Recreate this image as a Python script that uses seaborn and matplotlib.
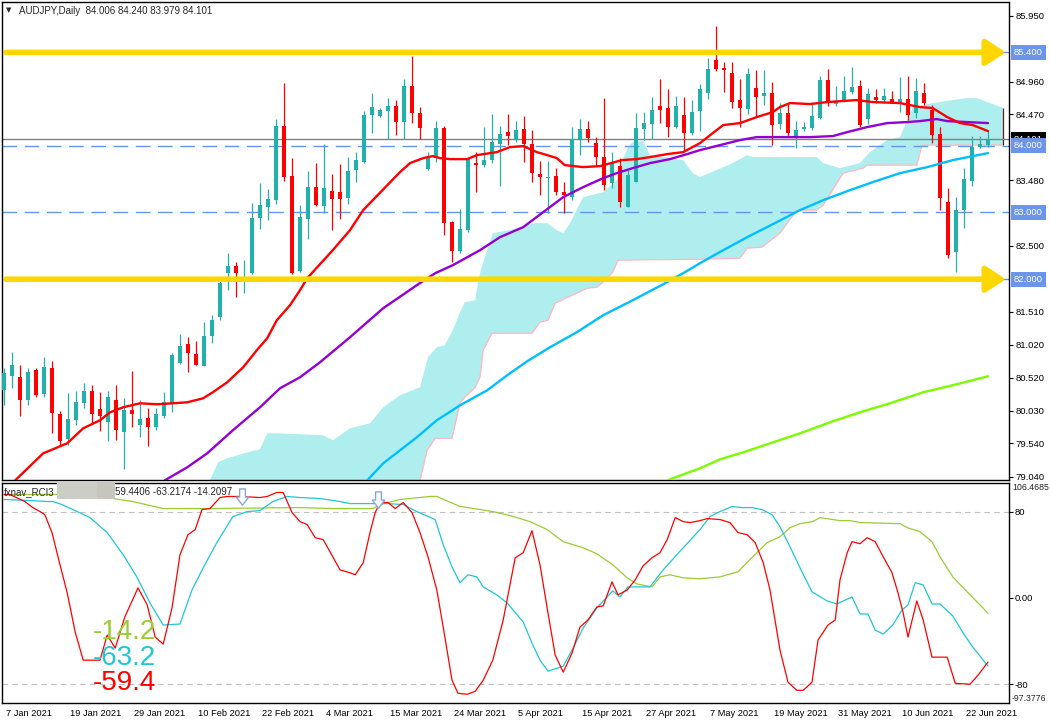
import matplotlib
matplotlib.use("Agg")
import matplotlib.pyplot as plt
import matplotlib.transforms as mtransforms
from matplotlib.patches import Rectangle
from matplotlib.path import Path
import numpy as np
import seaborn as sns

sns.set_theme(style="white")
plt.rcParams["font.family"] = ["Liberation Sans", "DejaVu Sans"]
plt.rcParams["axes.unicode_minus"] = False
plt.rcParams["lines.scale_dashes"] = False

# ---- daily candles, bar 0 = 7 Jan 2021 ----
opens = [80.335, 80.545, 80.53, 80.185, 80.635, 80.275, 80.665, 79.975, 79.6, 79.885,
         80.14, 80.32, 80.05, 79.855, 80.185, 79.705, 80.035, 79.81, 79.915, 79.78,
         79.945, 80.14, 80.74, 81.025, 80.875, 80.695, 81.145, 81.43, 82.09, 82.195,
         82.0, 82.09, 82.915, 83.08, 83.185, 84.295, 83.545, 82.12, 82.9, 83.38,
         83.095, 83.32, 83.305, 83.215, 83.635, 83.755, 84.46, 84.445, 84.52, 84.595,
         84.355, 84.895, 84.49, 83.65, 83.815, 84.265, 82.855, 82.42, 82.735, 83.74,
         83.71, 83.785, 84.025, 84.205, 84.085, 84.25, 84.025, 83.575, 83.515, 83.545,
         83.305, 83.23, 84.1, 84.25, 84.04, 83.83, 83.44, 83.695, 83.08, 83.455,
         84.25, 84.325, 84.595, 84.565, 84.28, 84.46, 84.19, 84.52, 84.79, 85.285,
         85.165, 85.09, 84.685, 84.55, 84.865, 84.745, 84.79, 84.325, 84.49, 84.145,
         84.25, 84.265, 84.415, 84.985, 84.625, 84.685, 84.805, 84.895, 84.4, 84.73,
         84.685, 84.7, 84.64, 84.7, 84.49, 84.79, 84.535, 84.175, 83.155, 82.405,
         83.035, 83.47, 83.98, 84.006]
highs = [80.665, 80.905, 80.71, 80.665, 80.665, 80.83, 80.77, 80.02, 80.29, 80.32,
         80.44, 80.41, 80.305, 80.32, 80.41, 80.215, 80.62, 80.185, 80.065, 80.065,
         80.305, 80.89, 81.175, 81.13, 81.07, 81.355, 81.46, 81.97, 82.39, 82.255,
         82.285, 83.14, 83.44, 83.35, 84.4, 84.94, 83.815, 83.11, 83.62, 83.74,
         84.025, 83.575, 83.725, 83.83, 83.905, 84.52, 84.79, 84.565, 84.715, 84.685,
         85.0, 85.345, 84.58, 83.905, 84.37, 84.295, 82.87, 83.05, 83.815, 83.905,
         84.28, 84.475, 84.295, 84.475, 84.37, 84.445, 84.235, 83.77, 83.77, 83.665,
         83.455, 84.28, 84.4, 84.37, 84.13, 84.715, 83.905, 83.815, 83.635, 84.49,
         84.505, 84.73, 85.0, 84.85, 84.745, 84.73, 84.685, 84.925, 85.315, 85.795,
         85.255, 85.255, 85.0, 85.165, 85.135, 85.135, 84.955, 84.64, 84.64, 84.37,
         84.355, 84.655, 85.045, 85.15, 84.895, 85.045, 85.18, 84.985, 84.865, 84.85,
         84.865, 84.82, 85.03, 85.045, 85.015, 84.94, 84.61, 84.28, 83.365, 83.23,
         83.665, 84.145, 84.145, 84.240]
lows = [80.11, 80.365, 79.945, 80.11, 80.23, 80.23, 79.69, 79.51, 79.51, 79.81,
        80.065, 79.84, 79.72, 79.57, 79.585, 79.15, 79.78, 79.63, 79.495, 79.735,
        79.915, 80.005, 80.725, 80.605, 80.71, 80.695, 81.04, 81.385, 81.835, 81.73,
        81.79, 82.075, 82.75, 82.885, 83.125, 83.47, 82.075, 82.105, 82.6, 83.095,
        82.99, 82.735, 82.9, 83.125, 83.455, 83.74, 84.19, 84.43, 84.1, 84.16,
        84.1, 84.34, 84.1, 83.635, 83.755, 82.66, 82.255, 82.39, 82.705, 83.305,
        83.68, 83.74, 83.395, 84.01, 84.055, 83.755, 83.455, 83.26, 82.99, 83.26,
        82.99, 83.185, 83.86, 84.055, 83.71, 83.335, 83.365, 83.08, 83.08, 83.455,
        84.085, 84.1, 84.34, 84.13, 84.265, 83.935, 84.16, 84.22, 84.7, 85.12,
        84.805, 84.565, 84.28, 84.475, 84.43, 84.61, 84.01, 84.25, 84.145, 83.965,
        84.22, 84.235, 84.4, 84.595, 84.595, 84.655, 84.775, 84.28, 84.325, 84.64,
        84.64, 84.64, 84.505, 84.385, 84.415, 84.61, 84.04, 83.035, 82.315, 82.105,
        82.765, 83.395, 83.965, 83.979]
closes = [80.59, 80.71, 80.185, 80.605, 80.26, 80.68, 79.99, 79.57, 79.9, 80.155,
          80.32, 79.975, 79.945, 80.23, 79.735, 80.035, 79.975, 79.9, 79.78, 79.975,
          80.155, 80.86, 80.995, 80.89, 80.71, 81.145, 81.385, 81.94, 82.195, 82.09,
          82.03, 82.915, 83.11, 83.2, 84.295, 83.53, 82.09, 82.93, 83.38, 83.11,
          83.365, 83.2, 83.2, 83.62, 83.785, 84.46, 84.58, 84.535, 84.595, 84.355,
          84.895, 84.49, 84.265, 83.815, 84.265, 82.84, 82.42, 82.75, 83.8, 83.71,
          83.785, 84.055, 84.175, 84.145, 84.235, 84.025, 83.59, 83.53, 83.53, 83.305,
          83.26, 84.1, 84.25, 84.115, 83.83, 83.41, 83.74, 83.155, 83.56, 84.265,
          84.34, 84.535, 84.535, 84.28, 84.595, 84.19, 84.505, 84.85, 85.15, 85.15,
          85.135, 84.655, 84.565, 85.075, 84.73, 84.79, 84.31, 84.49, 84.19, 84.235,
          84.28, 84.445, 84.985, 84.64, 84.655, 84.82, 84.88, 84.31, 84.775, 84.685,
          84.745, 84.655, 84.7, 84.46, 84.82, 84.64, 84.16, 83.215, 82.36, 83.035,
          83.5, 83.98, 84.025, 84.101]

# ---- moving averages (bar position, price) ----
ma_red_x = [1.4, 4.9, 6.1, 7.9, 9.9, 12, 13.25, 14.9, 17, 19.1, 21.1, 22.9, 24.9, 26.1, 27.9,
            29.9, 31.6, 32.9, 34.1, 35.75, 37, 37.9, 41.1, 43.25, 44.9, 46.1, 49.5, 50.75, 52.4,
            53.6, 54.5, 55.75, 57.9, 59.1, 61.6, 63.25, 64.9, 66.6, 67.9, 69.1, 70.1, 72.4, 74.5,
            77.25, 79.1, 80.75, 82.9, 84.9, 87, 88.6, 89.9, 92, 94.1, 96.1, 97, 98.25, 100.75,
            102.9, 106.6, 108.6, 112, 114.5, 116.1, 117.9, 119.5, 121.1, 123]
ma_red = [78.985, 79.39, 79.45, 79.54, 79.765, 79.885, 80.005, 80.08, 80.14, 80.125, 80.14,
          80.155, 80.215, 80.305, 80.455, 80.68, 80.935, 81.115, 81.385, 81.61, 81.835, 82.015,
          82.435, 82.735, 83.035, 83.185, 83.605, 83.74, 83.815, 83.845, 83.815, 83.8, 83.8,
          83.86, 83.905, 83.98, 83.995, 83.905, 83.86, 83.815, 83.71, 83.68, 83.695, 83.785,
          83.8, 83.83, 83.875, 83.905, 84.04, 84.19, 84.31, 84.34, 84.43, 84.505, 84.58, 84.64,
          84.625, 84.655, 84.685, 84.655, 84.64, 84.58, 84.565, 84.43, 84.34, 84.31, 84.22]
ma_purple_x = [20.1, 22.9, 25.4, 28.6, 32, 34.5, 37, 39.5, 43.25, 47.4, 51.6, 53.9, 56.1, 59.5,
               62, 64.9, 67.4, 69.9, 72.4, 74.9, 76.6, 78.6, 80.75, 83.25, 85.4, 87, 89.5, 92,
               94.1, 97.4, 100.75, 103.6, 105.4, 107.9, 110.4, 112.9, 114.5, 116.6, 117.9, 120.4, 123]
ma_purple = [78.985, 79.18, 79.39, 79.735, 80.08, 80.365, 80.53, 80.755, 81.13, 81.565, 81.91,
             82.09, 82.21, 82.435, 82.63, 82.78, 83.005, 83.23, 83.38, 83.515, 83.59, 83.665,
             83.74, 83.8, 83.875, 83.935, 84.01, 84.085, 84.13, 84.13, 84.13, 84.145, 84.205,
             84.28, 84.34, 84.355, 84.37, 84.4, 84.37, 84.355, 84.34]
ma_blue_x = [45.4, 47.4, 49.5, 51.6, 54.1, 57, 60.4, 62.9, 65.4, 68.25, 71.6, 74.9, 78.6, 82.4,
             84.9, 87, 89.9, 92.9, 96.6, 99.5, 102.4, 105.75, 108.6, 112, 115.4, 118.6, 123]
ma_blue = [78.985, 79.24, 79.435, 79.63, 79.885, 80.11, 80.335, 80.56, 80.77, 80.98, 81.205,
           81.46, 81.685, 81.925, 82.09, 82.24, 82.435, 82.63, 82.855, 83.035, 83.185, 83.335,
           83.455, 83.59, 83.68, 83.785, 83.89]
ma_green_x = [82.9, 87, 89.5, 92.4, 95.75, 99.5, 103.6, 107, 110.75, 114.9, 119.1, 123]
ma_green = [78.985, 79.165, 79.3, 79.405, 79.54, 79.69, 79.87, 80.005, 80.14, 80.305, 80.425, 80.545]

# ---- ichimoku cloud edges ----
span_a_x = [25.75, 26.75, 27.9, 30.4, 32, 32.9, 34.1, 39.9, 41.1, 42, 43.25, 45.75, 47.4, 49.5,
            52, 53, 54.1, 55.1, 56.1, 57, 57.6, 58.9, 59.25, 59.6, 60.4, 61.1, 63.25, 66.1, 67.9,
            69.1, 69.9, 70.75, 72.4, 74.9, 76.6, 77, 78, 78.6, 79.9, 80.75, 84.9, 86.1, 87, 91.1,
            92.9, 93.6, 101.6, 102.4, 104.5, 107, 108.25, 110.4, 112, 112.9, 113.6, 116.1, 118.6,
            120.4, 121.6, 123.25, 124.9]
span_a = [78.985, 79.255, 79.315, 79.405, 79.45, 79.69, 79.69, 79.66, 79.585, 79.66, 79.765,
          79.84, 80.08, 80.26, 80.38, 80.83, 80.98, 81.01, 81.235, 81.505, 81.655, 81.685, 81.94,
          82.135, 82.435, 82.69, 82.735, 82.84, 82.84, 82.735, 82.69, 82.84, 83.23, 83.305,
          83.485, 83.68, 83.98, 84.055, 84.07, 83.86, 83.785, 83.59, 83.53, 83.74, 83.86, 83.83,
          83.83, 83.74, 83.665, 83.74, 83.905, 84.085, 84.13, 84.385, 84.58, 84.64, 84.685,
          84.715, 84.715, 84.64, 84.565]
span_b_x = [25.75, 40, 52, 52.9, 53.9, 56, 57, 57.6, 58.9, 59.5, 59.9, 61, 66, 67, 68, 68.9,
            72.9, 74.1, 74.75, 76.1, 76.75, 87, 92, 92.9, 94.75, 97, 99.1, 101.6, 102.4, 104.9,
            107.4, 107.9, 114.1, 114.75, 124.9]
span_b = [78.3, 78.6, 78.985, 79.435, 79.615, 79.615, 80.14, 80.23, 80.38, 80.53, 80.935, 81.19,
          81.19, 81.355, 81.385, 81.64, 81.865, 81.88, 81.94, 82.105, 82.285, 82.3, 82.315,
          82.465, 82.48, 82.69, 83.035, 83.035, 83.11, 83.59, 83.665, 83.71, 83.71, 84.01, 84.01]

# ---- RCI lines ----
rci_red_x = [0, 0.75, 2.6, 3.6, 4.5, 5.1, 6, 7, 7.9, 8.9, 9.9, 12, 12.9, 13.9, 15.1, 16.75, 17.9,
             18.9, 19.9, 21, 22, 23, 23.9, 24.75, 25.75, 27, 27.9, 29.5, 32, 32.9, 34.1, 34.9, 36,
             37, 37.9, 38.9, 39.9, 41.1, 42, 43.25, 43.9, 44.9, 45.75, 46.4, 47, 48, 48.9, 49.9,
             51, 52, 53, 54.1, 54.9, 56, 56.75, 57.9, 58.9, 59.9, 61.1, 62.4, 63.9, 64.9, 66, 67,
             68, 68.9, 69.9, 71, 72, 73, 74.1, 74.9, 76, 76.75, 77.9, 78.9, 79.9, 81, 82, 82.9,
             83.9, 84.9, 85.75, 87, 87.9, 89.5, 90.75, 91.75, 92.9, 93.9, 94.9, 95.75, 97, 98,
             99.1, 99.9, 101, 101.75, 103, 103.9, 104.5, 105.4, 106, 107, 107.9, 108.9, 109.9,
             111, 111.75, 112.4, 113, 114.1, 114.9, 116, 117.9, 118.9, 120.75, 121.75, 123]
rci_red = [95.8, 95.8, 89.3, 83.7, 80.0, 77.2, 60.5, 30.7, 4.7, -31.6, -57.7, -57.7, -34.4, -46.5,
           -17.7, 9.3, -6.5, -36.3, -42.8, -9.3, 40.0, 58.6, 63.3, 81.9, 82.8, 93.0, 94.0, 94.0,
           93.0, 94.0, 97.7, 97.7, 79.1, 70.7, 67.9, 55.8, 54.0, 38.1, 26.0, 23.3, 21.4, 32.6,
           60.5, 79.1, 88.4, 88.4, 82.8, 88.4, 79.1, 60.5, 38.1, 7.4, -27.0, -76.3, -88.4, -89.3,
           -86.5, -76.3, -57.7, -20.5, 37.2, 41.9, 62.3, 30.7, -14.0, -53.0, -68.8, -51.2, -27.0,
           -20.5, -8.4, -7.4, 14.9, 2.8, 7.4, 16.7, 29.8, 37.2, 41.9, 54.0, 74.4, 70.7, 69.8,
           71.6, 73.5, 72.6, 69.8, 60.5, 58.6, 51.2, 32.6, 7.4, -48.4, -78.1, -85.6, -85.6,
           -78.1, -39.1, -25.1, -20.5, 16.7, 41.9, 52.1, 50.2, 55.8, 52.1, 38.1, 23.3, 4.7,
           -14.0, -36.3, -2.8, -20.5, -54.9, -54.9, -79.1, -80.0, -71.6, -59.44]
rci_cyan_x = [0, 3.25, 5.4, 6.1, 7.25, 8.6, 10.75, 12.9, 14.9, 16.6, 18.25, 19.9, 22, 23.5, 24.9,
              26.6, 28.6, 30.4, 32, 33.6, 35.4, 37, 39.5, 42, 43.25, 46.1, 47.9, 49.9, 51.6, 53.9,
              54.9, 56, 57, 58, 59.1, 59.9, 61.6, 62.9, 64.9, 66, 67, 68, 69.9, 71, 72.4, 74.1,
              76.1, 77, 78, 80.75, 82.4, 84.1, 87, 88.25, 89.5, 91, 92.25, 93.5, 94.75, 96, 97,
              98.25, 99.5, 101, 102.9, 104.1, 106, 107, 108, 108.9, 109.9, 111.1, 112.25, 113,
              113.9, 114.9, 116, 117, 118.6, 119.9, 121.1, 123]
rci_cyan = [91.2, 90.2, 89.3, 89.3, 86.5, 81.9, 74.4, 60.5, 40.0, 19.5, -4.7, -25.1, -24.2, 7.4,
            27.9, 51.2, 75.3, 80.0, 80.9, 89.3, 94.0, 93.0, 92.1, 89.3, 87.4, 87.4, 87.4, 86.5,
            80.0, 72.6, 49.3, 28.8, 14.0, 21.4, 19.5, 10.2, 2.8, -4.7, -22.3, -41.9, -57.7, -67.9,
            -63.3, -48.4, -27.9, -9.3, 6.5, 0.9, 10.2, 10.2, 26.0, 40.0, 63.3, 75.3, 80.0, 84.7,
            83.7, 83.7, 81.9, 77.2, 66.0, 47.4, 27.9, 5.6, -2.8, -5.6, 0.9, -14.9, -14.9, -29.8,
            -33.5, -25.1, -11.2, -6.5, 14.0, 12.1, -5.6, -5.6, -16.7, -32.6, -45.6, -63.22]
rci_green_x = [0, 7, 12, 16.1, 19.9, 25.4, 37, 41.1, 46.1, 47, 49.5, 53.25, 54.1, 57, 59.5, 61.1,
               63.25, 65.75, 67.9, 69.9, 72.4, 74.1, 76.1, 77.9, 79.1, 81, 82, 83.25, 84.9, 87,
               89.5, 91.75, 93.6, 95.4, 97, 98.25, 99.5, 101.1, 102, 104.5, 105.75, 107, 112,
               112.9, 114.5, 116, 117, 118.6, 120.4, 122, 123]
rci_green = [95.8, 95.8, 94.0, 89.3, 82.8, 82.8, 83.7, 82.8, 82.8, 86.5, 91.2, 94.0, 94.0, 84.7,
             81.9, 80.0, 76.3, 70.7, 63.3, 52.1, 46.5, 40.9, 30.7, 18.6, 13.0, 10.2, 19.5, 21.4,
             18.6, 17.7, 19.5, 24.2, 38.1, 51.2, 56.7, 65.1, 68.8, 70.7, 74.4, 71.6, 71.6, 69.8,
             68.8, 65.1, 61.4, 52.1, 38.1, 19.5, 5.6, -6.5, -14.21]
signal_x = [29.75, 46.75]
signal_v = [93, 90]

price_ticks = [85.950, 84.960, 84.470, 83.480, 82.500,
               81.510, 81.020, 80.520, 80.030, 79.540, 79.040]
arrow_levels = [85.4, 82.0]
dashed_levels = [85.4, 84.0, 83.0, 82.0]
bid = 84.101
date_bars = [0, 8, 16, 24, 32, 40, 48, 56, 64, 72, 80, 88, 96, 104, 112, 120]
date_labels = ["7 Jan 2021", "19 Jan 2021", "29 Jan 2021", "10 Feb 2021", "22 Feb 2021",
               "4 Mar 2021", "15 Mar 2021", "24 Mar 2021", "5 Apr 2021", "15 Apr 2021",
               "27 Apr 2021", "7 May 2021", "19 May 2021", "31 May 2021", "10 Jun 2021",
               "22 Jun 2021"]

W, H = 1050, 725
fig = plt.figure(figsize=(W / 100, H / 100), dpi=100)
fig.patch.set_facecolor("white")
ax = fig.add_axes([2 / W, 245 / H, 1007 / W, 478 / H])
ax2 = fig.add_axes([2 / W, 22 / H, 1007 / W, 220 / H])

for a in (ax, ax2):
    a.set_facecolor("white")
    a.set_xlim(-0.25, 125.625)
    for s in a.spines.values():
        s.set_color("black")
        s.set_linewidth(1)
ax.set_ylim(78.99, 86.155)
ax2.set_ylim(-97.3776, 106.4685)

# cloud
cx = np.r_[span_a_x, span_b_x[::-1]]
cy = np.r_[span_a, span_b[::-1]]
ax.fill(cx, cy, color="#AFEEEE", lw=0, zorder=1)
sns.lineplot(x=span_b_x, y=span_b, ax=ax, color="#FFB6C1", lw=0.9, sort=False, estimator=None, zorder=1.5)
ax.vlines(span_a_x[-1], span_b[-1], span_a[-1], color="#6B1A1A", lw=0.9, zorder=1.5)

# levels
for lv in dashed_levels:
    ax.axhline(lv, color="#6495ED", lw=1, ls=(0, (10.5, 5.5)), zorder=2)
ax.axhline(bid, color="#808080", lw=1, zorder=2)

# candles
o, hi, lo, c = map(np.array, (opens, highs, lows, closes))
bars = np.arange(len(o))
cols = np.where(c >= o, "#20B2AA", "#FF0000")
ax.vlines(bars, lo, hi, colors=cols, lw=0.9, zorder=3)
ax.bar(bars, np.maximum(np.abs(c - o), 0.013), bottom=np.minimum(o, c), width=0.62,
       color=cols, linewidth=0, zorder=3)

# moving averages
sns.lineplot(x=ma_green_x, y=ma_green, ax=ax, color="#7CFC00", lw=1.7, sort=False, estimator=None, zorder=4)
sns.lineplot(x=ma_blue_x, y=ma_blue, ax=ax, color="#00BFFF", lw=1.7, sort=False, estimator=None, zorder=4)
sns.lineplot(x=ma_purple_x, y=ma_purple, ax=ax, color="#9400D3", lw=1.7, sort=False, estimator=None, zorder=4)
sns.lineplot(x=ma_red_x, y=ma_red, ax=ax, color="#FF0000", lw=1.7, sort=False, estimator=None, zorder=4)

# yellow arrows
for lv in arrow_levels:
    ax.annotate("", xy=(125.25, lv), xytext=(0.25, lv),
                arrowprops=dict(arrowstyle="-|>,head_length=1.0,head_width=0.65",
                                color="#FFD700", lw=4, shrinkA=0, shrinkB=0), zorder=6)

ax.set_xticks([])
ax.yaxis.tick_right()
ax.set_yticks(price_ticks)
ax.set_yticklabels([f"{v:.3f}" for v in price_ticks])
ax.tick_params(axis="y", direction="out", length=3, width=0.8, pad=1.5, labelsize=6.8, colors="black")

trans = mtransforms.blended_transform_factory(ax.transAxes, ax.transData)
ax.text(1 + 5 / 1007, bid, f"{bid:.3f}", transform=trans, ha="left", va="center", fontsize=6.8,
        color="white", bbox=dict(boxstyle="square,pad=0.3", fc="black", ec="none"), zorder=9, clip_on=False)
for lv in dashed_levels:
    ax.text(1 + 5 / 1007, lv, f"{lv:.3f}", transform=trans, ha="left", va="center", fontsize=6.8,
            color="white", bbox=dict(boxstyle="square,pad=0.3", fc="#6A95EA", ec="none"), zorder=10, clip_on=False)

fig.text(9 / W, 1 - 10 / H, "▼", fontsize=5, family="DejaVu Sans", ha="center", va="center")
fig.text(19 / W, 1 - 11 / H, "AUDJPY,Daily  84.006 84.240 83.979 84.101", fontsize=7, va="center")

# ---- RCI panel ----
for lv in (80, -80):
    ax2.axhline(lv, color="#C0C0C0", lw=0.8, ls=(0, (4, 3)), zorder=1)
sns.lineplot(x=rci_green_x, y=rci_green, ax=ax2, color="#9ACD32", lw=0.9, sort=False, estimator=None)
sns.lineplot(x=rci_cyan_x, y=rci_cyan, ax=ax2, color="#1EC8D4", lw=0.9, sort=False, estimator=None)
sns.lineplot(x=rci_red_x, y=rci_red, ax=ax2, color="#FF0000", lw=0.9, sort=False, estimator=None)

# hollow down-arrow signal marks
arrow_marker = Path([(-0.3, 1.0), (0.3, 1.0), (0.3, 0.15), (0.65, 0.15), (0.0, -0.7),
                     (-0.65, 0.15), (-0.3, 0.15), (-0.3, 1.0)], closed=True)
ax2.scatter(signal_x, signal_v, marker=arrow_marker, s=190, facecolor="white",
            edgecolor="#8AA6D2", linewidth=1.0, zorder=5)

ax2.text(11.1, -38.1, f"{rci_green[-1]:.1f}", fontsize=20, color="#9ACD32", ha="left", va="baseline")
ax2.text(11.1, -62.3, f"{rci_cyan[-1]:.1f}", fontsize=20, color="#1EC8D4", ha="left", va="baseline")
ax2.text(11.1, -85.6, f"{rci_red[-1]:.1f}", fontsize=20, color="#FF0000", ha="left", va="baseline")

ax2.yaxis.tick_right()
ax2.set_yticks([80, 0, -80])
ax2.set_yticklabels(["80", "0.00", "-80"])
ax2.tick_params(axis="y", direction="out", length=3, width=0.8, pad=1, labelsize=6.8, colors="black")
trans2 = mtransforms.blended_transform_factory(ax2.transAxes, ax2.transData)
ax2.text(1 + 3 / 1007, 106.4685, "106.4685", transform=trans2, ha="left", va="top", fontsize=6.3, clip_on=False)
ax2.text(1 + 3 / 1007, -97.3776, "-97.3776", transform=trans2, ha="left", va="bottom", fontsize=6.3, clip_on=False)

ax2.set_xticks(date_bars)
ax2.set_xticklabels(date_labels, ha="left")
ax2.tick_params(axis="x", direction="out", length=3, width=0.8, pad=1.5, labelsize=6.7, colors="black")
shift = mtransforms.ScaledTranslation(2 / 100, 0, fig.dpi_scale_trans)
for lbl in ax2.get_xticklabels():
    lbl.set_transform(lbl.get_transform() + shift)
for a in (ax, ax2):
    a.set_xlabel("")
    a.set_ylabel("")

fig.text(4 / W, 1 - 492 / H, "fxnav_RCI3", fontsize=7, va="center")
fig.patches.append(Rectangle((57 / W, 1 - 499 / H), 40 / W, 17 / H, transform=fig.transFigure,
                             fc="#CDCDC7", ec="none", zorder=20))
fig.patches.append(Rectangle((97 / W, 1 - 499 / H), 18 / W, 17 / H, transform=fig.transFigure,
                             fc="#C6C6BE", ec="none", zorder=20))
fig.text(115 / W, 1 - 492 / H, "59.4406 -63.2174 -14.2097", fontsize=7, va="center")

fig.savefig("out.png", dpi=100)
